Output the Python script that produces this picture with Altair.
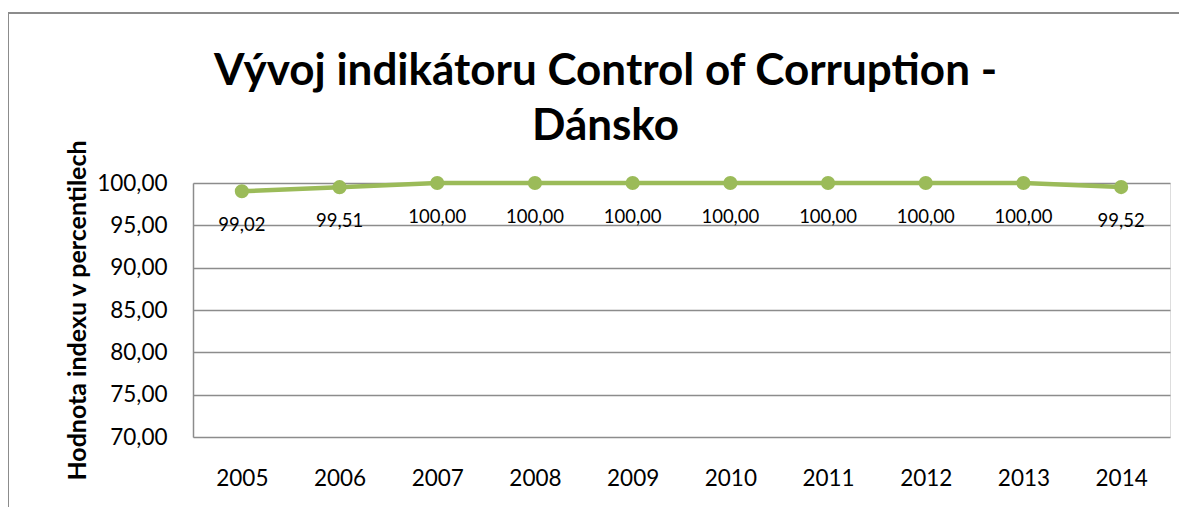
import altair as alt
import pandas as pd

years = ["2005", "2006", "2007", "2008", "2009", "2010", "2011", "2012", "2013", "2014"]
values = [99.02, 99.51, 100.00, 100.00, 100.00, 100.00, 100.00, 100.00, 100.00, 99.52]
y_ticks = [70, 75, 80, 85, 90, 95, 100]

df = pd.DataFrame({"rok": years, "hodnota": values})

FONT = "Lato"
GREEN = "#9BBB59"
GRID = "#8C8C8C"

x = alt.X("rok:O", scale=alt.Scale(padding=0.5), sort=years,
          axis=alt.Axis(title=None, labelAngle=0, labelFontSize=22.5, labelFont=FONT,
                        labelColor="#000000", labelPadding=30, ticks=False, domain=False,
                        grid=False))
y = alt.Y("hodnota:Q", scale=alt.Scale(domain=[70, 100], nice=False, zero=False),
          axis=alt.Axis(title="Hodnota indexu v percentilech", values=y_ticks,
                        labelExpr="replace(format(datum.value, '.2f'), '.', ',')",
                        labelFontSize=22.5, labelFont=FONT, labelColor="#000000",
                        labelPadding=26, ticks=False, domain=True, domainColor=GRID,
                        domainWidth=1.5, grid=True, gridColor=GRID, gridWidth=1.5,
                        titleFont=FONT, titleFontSize=25, titleFontWeight="bold",
                        titleColor="#000000", titlePadding=6))

base = alt.Chart(df).encode(x=x, y=y)

# outer chart-area border (left and top edges only are visible in the reference)
frame_left = alt.Chart(df).mark_rule(stroke="#8C8C8C", strokeWidth=1.5).encode(
    x=alt.value(-185), y=alt.value(-170), y2=alt.value(345))
frame_top = alt.Chart(df).mark_rule(stroke="#8C8C8C", strokeWidth=1.5).encode(
    x=alt.value(-185), x2=alt.value(1000), y=alt.value(-170))

line = base.mark_line(color=GREEN, strokeWidth=4.5)
pts = base.mark_circle(color=GREEN, size=200, opacity=1)
labels = base.transform_calculate(
    lab="replace(format(datum.hodnota, '.2f'), '.', ',')"
).mark_text(font=FONT, fontSize=18.5, color="#000000", baseline="middle", dy=34).encode(
    text="lab:N")

chart = alt.layer(frame_left, frame_top, line, pts, labels).properties(
    width=977, height=254,
    title=alt.TitleParams(
        text=["Vývoj indikátoru Control of Corruption -", "Dánsko"],
        font=FONT, fontSize=44, fontWeight="bold", color="#000000",
        anchor="middle", frame="group", dx=-76, lineHeight=55, offset=-137),
    autosize=alt.AutoSizeParams(type="none"),
    padding={"left": 185, "top": 175, "right": 9, "bottom": 70},
).configure_view(stroke=None).configure(background="white")

chart.save("out.html", embed_options={"renderer": "svg", "actions": False})
